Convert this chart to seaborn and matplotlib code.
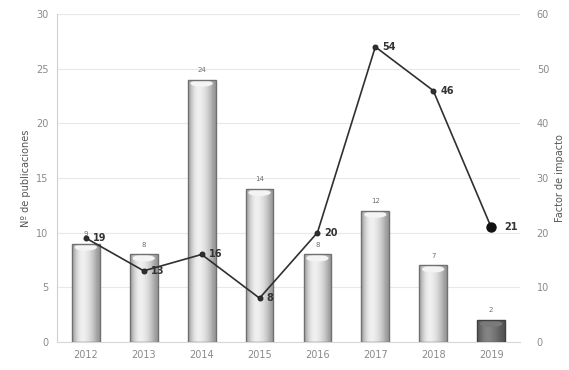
import numpy as np
import pandas as pd
import matplotlib
matplotlib.use('Agg')
import matplotlib.pyplot as plt
from matplotlib.patches import Ellipse
import seaborn as sns

years = ['2012', '2013', '2014', '2015', '2016', '2017', '2018', '2019']
publicaciones = [9, 8, 24, 14, 8, 12, 7, 2]
factor_impacto = [19, 13, 16, 8, 20, 54, 46, 21]

df = pd.DataFrame({'year': years, 'pub': publicaciones, 'fi': factor_impacto})

sns.set_style('white')
plt.rcParams['font.family'] = ['DejaVu Sans']

fig = plt.figure(figsize=(5.69, 3.70), dpi=100)
ax = fig.add_axes([0.100, 0.076, 0.814, 0.886])

sns.barplot(data=df, x='year', y='pub', ax=ax, width=0.48, color='#cccccc',
            edgecolor='#707070', linewidth=1.0, zorder=2)

# cylinder shading on each bar
grad = np.array([0.55, 0.7, 0.82, 0.88, 0.87, 0.82, 0.75, 0.67, 0.58, 0.5])
bars = list(ax.patches)
for i, p in enumerate(bars):
    x0, w, h = p.get_x(), p.get_width(), p.get_height()
    last = i == len(bars) - 1
    vals = grad * 0.5 if last else grad
    img = ax.imshow(vals[None, :], cmap='Greys_r', vmin=0, vmax=1, aspect='auto',
                    extent=(x0, x0 + w, 0, h), zorder=2.5, interpolation='bicubic')
    img.set_clip_path(p)
    # light cap at the top of the cylinder
    cap = Ellipse((x0 + w / 2, h - 0.35), w * 0.8, 0.6,
                  facecolor='#7a7a7a' if last else '#f4f4f4', edgecolor='none', zorder=2.7)
    ax.add_patch(cap)
    cap.set_clip_path(p)
    p.set_facecolor('none')
    p.set_edgecolor('#404040' if last else '#707070')
    p.set_zorder(3)
    ax.text(x0 + w / 2, h + 0.6, str(publicaciones[i]), ha='center', va='bottom',
            fontsize=5, color='#707070')

ax.set_xlim(-0.5, 7.5)
ax.set_ylim(0, 30)
ax.set_yticks(range(0, 31, 5))
ax.yaxis.grid(True, color='#e8e8e8', linewidth=0.8)
ax.set_axisbelow(True)
ax.set_xlabel('')
ax.set_ylabel('Nº de publicaciones', fontsize=7, color='#555555')
ax.tick_params(axis='both', labelsize=7, colors='#8a8a8a', length=0, pad=6)
for s in ['top', 'right']:
    ax.spines[s].set_visible(False)
ax.spines['left'].set_color('#d0d0d0')
ax.spines['bottom'].set_color('#d8d8d8')

ax2 = ax.twinx()
sns.lineplot(x=np.arange(len(years)), y=factor_impacto, ax=ax2, color='#303030',
             linewidth=1.2, marker='o', markersize=3.5, markeredgecolor='#202020', zorder=5)
ax2.plot([len(years) - 1], [factor_impacto[-1]], 'o', color='#111111', markersize=6.5, zorder=6)
for i, v in enumerate(factor_impacto):
    off = 0.22 if i == len(years) - 1 else 0.12
    ax2.text(i + off, v, str(v), ha='left', va='center', fontsize=7,
             fontweight='bold', color='#333333')
ax2.set_ylim(0, 60)
ax2.set_yticks(range(0, 61, 10))
ax2.set_ylabel('Factor de impacto', fontsize=7, color='#555555', labelpad=4)
ax2.tick_params(axis='y', labelsize=7, colors='#8a8a8a', length=0, pad=12)
for s in ['top', 'right', 'left', 'bottom']:
    ax2.spines[s].set_visible(False)
ax2.grid(False)

fig.savefig('out.png', dpi=100)
